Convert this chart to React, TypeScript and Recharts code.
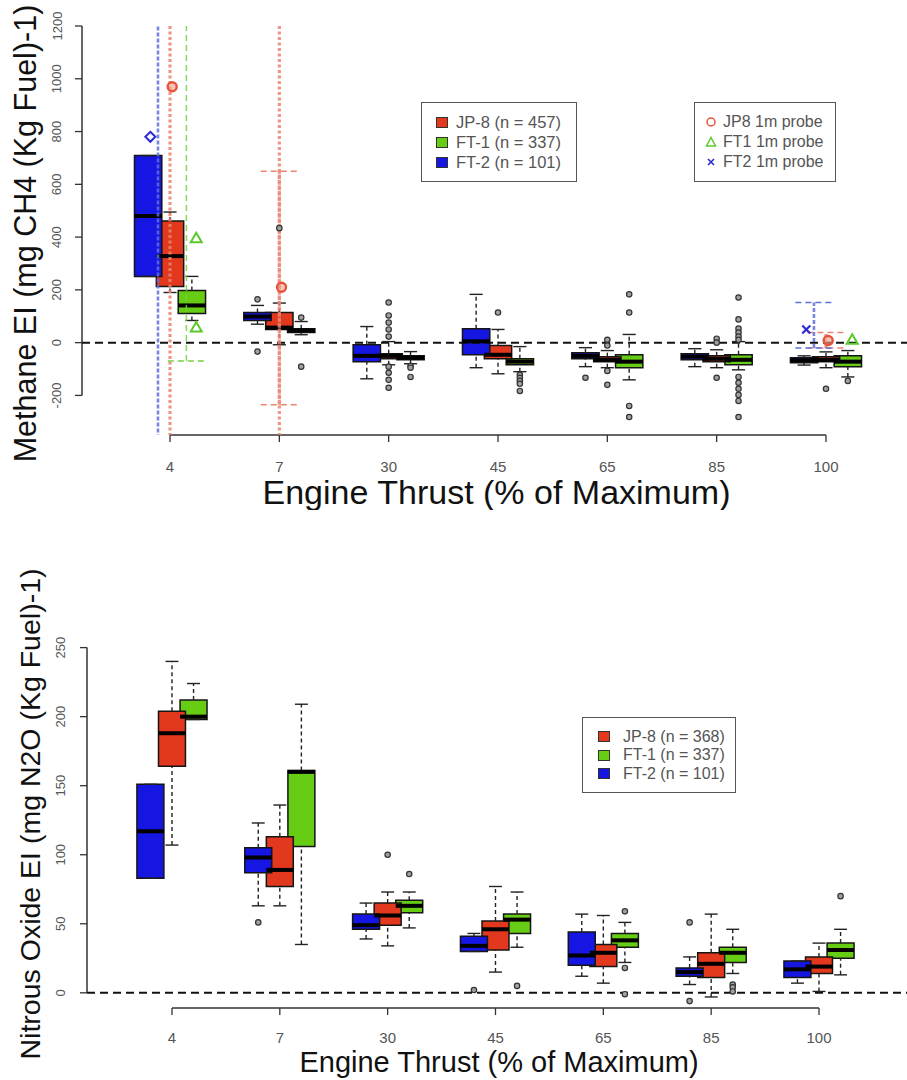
import React from "react";
import {
  ComposedChart,
  XAxis,
  YAxis,
  ReferenceArea,
  ReferenceLine,
  Scatter,
  Legend,
  Label,
} from "recharts";

// ---------- categories ----------
const thrustLabels = ["4", "7", "30", "45", "65", "85", "100"];
const thrustTicks = [0, 1, 2, 3, 4, 5, 6];

// ---------- fuels ----------
const fuelNames = ["JP-8", "FT-1", "FT-2"];
const fuelColors = ["#e2381e", "#66cc14", "#1616e2"];
const fuelBoxOffsets = [0, 0.2, -0.2];
const fuelDrawOrder = [1, 0, 2];

// ---------- Methane EI: [lower whisker, Q1, median, Q3, upper whisker] per thrust ----------
const ch4Jp8Stats = [
  [190, 213, 328, 461, 495],
  [-8, 50, 57, 114, 150],
  [-84, -61, -50, -42, 4],
  [-118, -61, -46, -11, 50],
  [-95, -72, -65, -53, -30],
  [-95, -72, -61, -50, -27],
  [-95, -72, -65, -53, -35],
];
const ch4Ft1Stats = [
  [84, 110, 141, 198, 251],
  [30, 38, 46, 53, 80],
  [-80, -65, -57, -50, -34],
  [-110, -84, -72, -61, -15],
  [-141, -95, -72, -46, 31],
  [-103, -84, -65, -46, 4],
  [-130, -91, -72, -50, -30],
];
const ch4Ft2Stats = [
  [251, 251, 480, 709, 709],
  [70, 84, 99, 114, 141],
  [-137, -72, -50, -8, 61],
  [-95, -46, 5, 53, 183],
  [-91, -61, -50, -38, -19],
  [-91, -65, -53, -42, -23],
  [-85, -76, -67, -57, -50],
];

// ---------- Methane outliers per thrust ----------
const ch4Jp8Out = [[], [434], [152, 103, 76, 50, 23, -91, -114, -141, -171], [114], [11, -11, -107, -160], [15, 0, -133], [-175]];
const ch4Ft1Out = [[], [95, -91], [-88, -95, -130], [-122, -133, -145, -156, -183], [183, 114, -240, -282], [171, 88, 53, 38, 23, 11, -130, -152, -175, -198, -221, -282], [-145]];
const ch4Ft2Out = [[], [164, -34], [], [], [-133], [], []];

// ---------- Methane 1 m probe: [thrust index, value] and [thrust index, low, high] ----------
const ch4Jp8Probe = [[0, 970], [1, 210], [6, 8]];
const ch4Ft1Probe = [[0, 396], [0, 57], [6, 11]];
const ch4Ft2ProbeDiamond = [[0, 780]];
const ch4Ft2ProbeCross = [[6, 50]];
const ch4Jp8ProbeRange = [[0, -2000, 3000], [1, -2000, 3000], [1, -235, 650], [6, -20, 38]];
const ch4Ft1ProbeRange = [[0, -70, 3000]];
const ch4Ft2ProbeRange = [[0, -2000, 3000], [6, -20, 152]];
const probeLineOffsets = [0, 0.15, -0.11];
const probeMarkOffsets = [0.02, 0.24, -0.18];

// ---------- Nitrous oxide EI ----------
const n2oJp8Stats = [
  [107, 164, 188, 204, 240],
  [63, 77, 89, 113, 136],
  [34, 49, 56, 65, 73],
  [15, 31, 46, 52, 77],
  [7, 19, 29, 35, 56],
  [-3, 11, 21, 29, 57],
  [1, 14, 19, 26, 36],
];
const n2oFt1Stats = [
  [198, 198, 200, 212, 224],
  [35, 106, 160, 161, 209],
  [47, 58, 63, 67, 73],
  [33, 43, 53, 57, 73],
  [22, 33, 38, 43, 51],
  [14, 22, 29, 33, 46],
  [13, 25, 31, 36, 46],
];
const n2oFt2Stats = [
  [83, 83, 117, 151, 151],
  [63, 87, 98, 105, 123],
  [39, 46, 49, 57, 65],
  [30, 30, 34, 41, 43],
  [12, 20, 27, 44, 57],
  [6, 12, 15, 18, 26],
  [7, 11, 17, 23, 23],
];
const n2oJp8Out = [[], [], [100], [], [], [], []];
const n2oFt1Out = [[], [], [86], [5], [59, 18, -1], [6, 4, 1], [70]];
const n2oFt2Out = [[], [51], [], [2], [], [51, -6], []];

// ---------- legends ----------
const ch4FuelLegend = ["JP-8 (n = 457)", "FT-1 (n = 337)", "FT-2 (n = 101)"];
const n2oFuelLegend = ["JP-8 (n = 368)", "FT-1 (n = 337)", "FT-2 (n = 101)"];
const probeLegend = ["JP8 1m probe", "FT1 1m probe", "FT2 1m probe"];

// ---------- axes ----------
const ch4YTicks = [-200, 0, 200, 400, 600, 800, 1000, 1200];
const n2oYTicks = [0, 50, 100, 150, 200, 250];
const CH4_X_DOMAIN: [number, number] = [-0.805, 6.741];
const CH4_Y_DOMAIN: [number, number] = [-350, 1200];
const N2O_X_DOMAIN: [number, number] = [-0.788, 6.816];
const N2O_Y_DOMAIN: [number, number] = [-11, 270];

const BOX_W = 0.25;
const CAP_HALF = 0.06;
const PROBE_CAP_HALF = 0.17;
const FONT = "'Liberation Sans', Arial, Helvetica, sans-serif";

const probeColors = ["#e5533c", "#5cc92a", "#2a2ad8"];

function boxElements(stats: number[][], color: string, offset: number, key: string) {
  const els: any[] = [];
  stats.forEach((s, i) => {
    const [lo, q1, med, q3, hi] = s;
    const c = i + offset;
    if (hi > q3) {
      els.push(
        <ReferenceLine key={`${key}-wu${i}`} segment={[{ x: c, y: q3 }, { x: c, y: hi }]} stroke="#222" strokeWidth={1.4} strokeDasharray="4 3" ifOverflow="visible" />
      );
    }
    if (lo < q1) {
      els.push(
        <ReferenceLine key={`${key}-wl${i}`} segment={[{ x: c, y: lo }, { x: c, y: q1 }]} stroke="#222" strokeWidth={1.4} strokeDasharray="4 3" ifOverflow="visible" />
      );
    }
    els.push(
      <ReferenceLine key={`${key}-cu${i}`} segment={[{ x: c - CAP_HALF, y: hi }, { x: c + CAP_HALF, y: hi }]} stroke="#222" strokeWidth={1.4} ifOverflow="visible" />
    );
    els.push(
      <ReferenceLine key={`${key}-cl${i}`} segment={[{ x: c - CAP_HALF, y: lo }, { x: c + CAP_HALF, y: lo }]} stroke="#222" strokeWidth={1.4} ifOverflow="visible" />
    );
    els.push(
      <ReferenceArea key={`${key}-box${i}`} x1={c - BOX_W / 2} x2={c + BOX_W / 2} y1={q1} y2={q3} fill={color} fillOpacity={1} stroke="#151515" strokeWidth={1.5} ifOverflow="visible" />
    );
    els.push(
      <ReferenceLine key={`${key}-med${i}`} segment={[{ x: c - BOX_W / 2, y: med }, { x: c + BOX_W / 2, y: med }]} stroke="#000" strokeWidth={4} ifOverflow="visible" />
    );
  });
  return els;
}

function outlierData(out: number[][], offset: number) {
  const pts: { x: number; y: number }[] = [];
  out.forEach((vals, i) => vals.forEach((v) => pts.push({ x: i + offset, y: v })));
  return pts;
}

function probeRangeElements(ranges: number[][], offset: number, color: string, width: number, dash: string, key: string) {
  const els: any[] = [];
  ranges.forEach((r, j) => {
    const [i, lo, hi] = r;
    const c = i + offset;
    els.push(
      <ReferenceLine key={`${key}-v${j}`} segment={[{ x: c, y: lo }, { x: c, y: hi }]} stroke={color} strokeWidth={width} strokeDasharray={dash} strokeOpacity={0.85} ifOverflow="hidden" />
    );
    [lo, hi].forEach((v, k) => {
      if (v > CH4_Y_DOMAIN[0] && v < CH4_Y_DOMAIN[1]) {
        els.push(
          <ReferenceLine key={`${key}-c${j}-${k}`} segment={[{ x: c - PROBE_CAP_HALF, y: v }, { x: c + PROBE_CAP_HALF, y: v }]} stroke={color} strokeWidth={1.5} strokeDasharray="6 4" ifOverflow="hidden" />
        );
      }
    });
  });
  return els;
}

const OutlierDot = (p: any) => (
  <circle cx={p.cx} cy={p.cy} r={2.7} fill="#a0a0a0" stroke="#333" strokeWidth={1.2} />
);
const ProbeCircle = (p: any) => (
  <circle cx={p.cx} cy={p.cy} r={4.5} fill="#f2a08e" fillOpacity={0.6} stroke={probeColors[0]} strokeWidth={2.4} />
);
const ProbeTriangle = (p: any) => (
  <polygon
    points={`${p.cx},${p.cy - 5.5} ${p.cx - 5.5},${p.cy + 4} ${p.cx + 5.5},${p.cy + 4}`}
    fill="none"
    stroke={probeColors[1]}
    strokeWidth={2}
  />
);
const ProbeDiamond = (p: any) => (
  <polygon
    points={`${p.cx},${p.cy - 5} ${p.cx + 5},${p.cy} ${p.cx},${p.cy + 5} ${p.cx - 5},${p.cy}`}
    fill="none"
    stroke={probeColors[2]}
    strokeWidth={2}
  />
);
const ProbeCross = (p: any) => (
  <g stroke={probeColors[2]} strokeWidth={2.2}>
    <line x1={p.cx - 4} y1={p.cy - 4} x2={p.cx + 4} y2={p.cy + 4} />
    <line x1={p.cx - 4} y1={p.cy + 4} x2={p.cx + 4} y2={p.cy - 4} />
  </g>
);

const makeYTick = (shift: number) => (props: any) => {
  const { x, y, payload } = props;
  const tx = x - shift;
  return (
    <text x={tx} y={y} transform={`rotate(-90 ${tx} ${y})`} textAnchor="middle" dominantBaseline="central" fontSize={13} fill="#555" fontFamily={FONT}>
      {payload.value}
    </text>
  );
};

const titleY = (text: string, cx: number, size: number, dy: number) => (props: any) => {
  const vb = props.viewBox || {};
  const cy = vb.y + vb.height / 2 + dy;
  return (
    <text x={cx} y={cy} transform={`rotate(-90 ${cx} ${cy})`} textAnchor="middle" dominantBaseline="central" fontSize={size} fill="#111" fontFamily={FONT}>
      {text}
    </text>
  );
};
const titleX = (text: string, cyOffset: number, size: number) => (props: any) => {
  const vb = props.viewBox || {};
  const cx = vb.x + vb.width / 2 + 2;
  const cy = vb.y + cyOffset;
  return (
    <text x={cx} y={cy} textAnchor="middle" dominantBaseline="central" fontSize={size} fill="#111" fontFamily={FONT}>
      {text}
    </text>
  );
};

const legendBoxStyle: React.CSSProperties = {
  position: "absolute",
  border: "1.5px solid #555",
  background: "#fff",
  boxSizing: "border-box",
  fontFamily: FONT,
  color: "#555",
};

function FuelLegendBox({ left, top, width, height, labels, rowH, fontSize, padLeft, gap }: any) {
  const order = [0, 1, 2];
  return (
    <div style={{ ...legendBoxStyle, left, top, width, height, paddingTop: (height - rowH * 3) / 2 - 1 }}>
      {order.map((i) => (
        <div key={i} style={{ display: "flex", alignItems: "center", height: rowH, paddingLeft: padLeft }}>
          <span style={{ display: "inline-block", width: 12, height: 11, background: fuelColors[i], border: "1.2px solid #333", boxSizing: "border-box", marginRight: gap }} />
          <span style={{ fontSize, whiteSpace: "nowrap" }}>{labels[i]}</span>
        </div>
      ))}
    </div>
  );
}

function ProbeLegendBox({ left, top, width, height }: any) {
  const marks = [
    <circle cx={6} cy={6} r={4} fill="none" stroke={probeColors[0]} strokeWidth={1.5} />,
    <polygon points="6,1.5 1.5,10 10.5,10" fill="none" stroke={probeColors[1]} strokeWidth={1.5} />,
    <g stroke={probeColors[2]} strokeWidth={1.6}>
      <line x1={3} y1={3} x2={9} y2={9} />
      <line x1={3} y1={9} x2={9} y2={3} />
    </g>,
  ];
  return (
    <div style={{ ...legendBoxStyle, left, top, width, height, paddingTop: 9 }}>
      {probeLegend.map((t, i) => (
        <div key={i} style={{ display: "flex", alignItems: "center", height: 20, paddingLeft: 10 }}>
          <svg width={12} height={12} style={{ marginRight: 6 }}>{marks[i]}</svg>
          <span style={{ fontSize: 16, whiteSpace: "nowrap" }}>{t}</span>
        </div>
      ))}
    </div>
  );
}

function MethaneChart() {
  const stats = [ch4Jp8Stats, ch4Ft1Stats, ch4Ft2Stats];
  const outs = [ch4Jp8Out, ch4Ft1Out, ch4Ft2Out];
  return (
    <ComposedChart width={907} height={510} margin={{ top: 26, right: 0, bottom: 0, left: 0 }}>
      <XAxis
        dataKey="x"
        type="number"
        domain={CH4_X_DOMAIN}
        allowDataOverflow
        ticks={thrustTicks}
        interval={0}
        tickFormatter={(v: number) => thrustLabels[v]}
        axisLine={false}
        tickLine={{ stroke: "#333", strokeWidth: 1.3 }}
        tickSize={7}
        tickMargin={19}
        tick={{ fontSize: 15, fill: "#555", fontFamily: FONT }}
        height={75}
      >
        <Label content={titleX("Engine Thrust (% of Maximum)", 57, 34)} />
      </XAxis>
      <YAxis
        type="number"
        domain={CH4_Y_DOMAIN}
        allowDataOverflow
        ticks={ch4YTicks}
        interval={0}
        axisLine={false}
        tickLine={{ stroke: "#333", strokeWidth: 1.3 }}
        tickSize={7}
        tick={makeYTick(16)}
        width={82}
      >
        <Label content={titleY("Methane EI (mg CH4 (Kg Fuel)-1)", 25, 30.5, 3)} />
      </YAxis>
      <ReferenceLine segment={[{ x: CH4_X_DOMAIN[0], y: -200 }, { x: CH4_X_DOMAIN[0], y: 1200 }]} stroke="#333" strokeWidth={1.5} ifOverflow="visible" />
      <ReferenceLine segment={[{ x: 0, y: CH4_Y_DOMAIN[0] }, { x: 6, y: CH4_Y_DOMAIN[0] }]} stroke="#333" strokeWidth={1.5} ifOverflow="visible" />
      <ReferenceLine y={0} stroke="#111" strokeWidth={2} strokeDasharray="8 5" ifOverflow="visible" />
      {fuelDrawOrder.flatMap((f) => boxElements(stats[f], fuelColors[f], fuelBoxOffsets[f], `ch4-${f}`))}
      {fuelDrawOrder.map((f) => (
        <Scatter key={`ch4-out-${f}`} name={`${fuelNames[f]} outliers`} data={outlierData(outs[f], fuelBoxOffsets[f])} dataKey="y" shape={OutlierDot} isAnimationActive={false} />
      ))}
      {probeRangeElements(ch4Jp8ProbeRange, probeLineOffsets[0], "#ea8470", 3.2, "3 2.5", "pr-jp8")}
      {probeRangeElements(ch4Ft1ProbeRange, probeLineOffsets[1], "#74d040", 1.5, "6 4", "pr-ft1")}
      {probeRangeElements(ch4Ft2ProbeRange, probeLineOffsets[2], "#6070dc", 2.6, "4 2", "pr-ft2")}
      <Scatter name="JP8 1m probe" data={ch4Jp8Probe.map(([i, v]) => ({ x: i + probeMarkOffsets[0], y: v }))} dataKey="y" shape={ProbeCircle} isAnimationActive={false} />
      <Scatter name="FT1 1m probe" data={ch4Ft1Probe.map(([i, v]) => ({ x: i + probeMarkOffsets[1], y: v }))} dataKey="y" shape={ProbeTriangle} isAnimationActive={false} />
      <Scatter name="FT2 1m probe" data={ch4Ft2ProbeDiamond.map(([i, v]) => ({ x: i + probeMarkOffsets[2], y: v }))} dataKey="y" shape={ProbeDiamond} isAnimationActive={false} />
      <Scatter name="FT2 1m probe x" data={ch4Ft2ProbeCross.map(([i, v]) => ({ x: i + probeMarkOffsets[2], y: v }))} dataKey="y" shape={ProbeCross} isAnimationActive={false} />
      <Legend
        wrapperStyle={{ left: 0, top: 0, width: 0, height: 0 }}
        content={() => (
          <div style={{ position: "relative", width: 0, height: 0 }}>
            <FuelLegendBox left={421} top={102} width={156} height={80} labels={ch4FuelLegend} rowH={20} fontSize={16.5} padLeft={14} gap={8} />
            <ProbeLegendBox left={694} top={102} width={142} height={80} />
          </div>
        )}
      />
    </ComposedChart>
  );
}

function NitrousChart() {
  const stats = [n2oJp8Stats, n2oFt1Stats, n2oFt2Stats];
  const outs = [n2oJp8Out, n2oFt1Out, n2oFt2Out];
  return (
    <ComposedChart width={907} height={540} margin={{ top: 80, right: 0, bottom: 0, left: 0 }}>
      <XAxis
        dataKey="x"
        type="number"
        domain={N2O_X_DOMAIN}
        allowDataOverflow
        ticks={thrustTicks}
        interval={0}
        tickFormatter={(v: number) => thrustLabels[v]}
        axisLine={false}
        tickLine={{ stroke: "#333", strokeWidth: 1.3 }}
        tickSize={7}
        tickMargin={17}
        tick={{ fontSize: 15, fill: "#555", fontFamily: FONT }}
        height={72}
      >
        <Label content={titleX("Engine Thrust (% of Maximum)", 54, 29)} />
      </XAxis>
      <YAxis
        type="number"
        domain={N2O_Y_DOMAIN}
        allowDataOverflow
        ticks={n2oYTicks}
        interval={0}
        axisLine={false}
        tickLine={{ stroke: "#333", strokeWidth: 1.3 }}
        tickSize={7}
        tick={makeYTick(17)}
        width={87}
      >
        <Label content={titleY("Nitrous Oxide EI (mg N2O (Kg Fuel)-1)", 30, 28.5, 0)} />
      </YAxis>
      <ReferenceLine segment={[{ x: N2O_X_DOMAIN[0], y: 0 }, { x: N2O_X_DOMAIN[0], y: 250 }]} stroke="#333" strokeWidth={1.5} ifOverflow="visible" />
      <ReferenceLine segment={[{ x: 0, y: N2O_Y_DOMAIN[0] }, { x: 6, y: N2O_Y_DOMAIN[0] }]} stroke="#333" strokeWidth={1.5} ifOverflow="visible" />
      <ReferenceLine y={0} stroke="#111" strokeWidth={2} strokeDasharray="8 5" ifOverflow="visible" />
      {fuelDrawOrder.flatMap((f) => boxElements(stats[f], fuelColors[f], fuelBoxOffsets[f], `n2o-${f}`))}
      {fuelDrawOrder.map((f) => (
        <Scatter key={`n2o-out-${f}`} name={`${fuelNames[f]} outliers`} data={outlierData(outs[f], fuelBoxOffsets[f])} dataKey="y" shape={OutlierDot} isAnimationActive={false} />
      ))}
      <Legend
        wrapperStyle={{ left: 0, top: 0, width: 0, height: 0 }}
        content={() => (
          <div style={{ position: "relative", width: 0, height: 0 }}>
            <FuelLegendBox left={582} top={177} width={154} height={76} labels={n2oFuelLegend} rowH={18.5} fontSize={16} padLeft={15} gap={13} />
          </div>
        )}
      />
    </ComposedChart>
  );
}

export default function App() {
  return (
    <div style={{ position: "relative", width: 907, height: 1080, fontFamily: FONT, background: "#fff" }}>
      <style>{"body{margin:0;background:#fff}"}</style>
      <div style={{ position: "absolute", left: 0, top: 0 }}>
        <MethaneChart />
      </div>
      <div style={{ position: "absolute", left: 0, top: 540 }}>
        <NitrousChart />
      </div>
    </div>
  );
}
